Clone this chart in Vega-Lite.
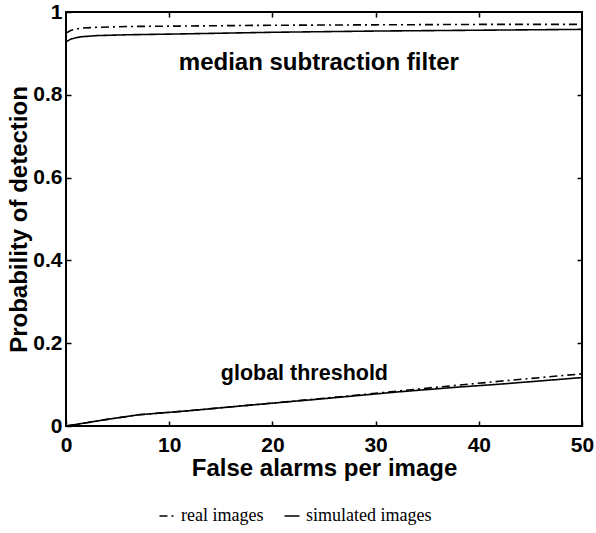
{
  "$schema": "https://vega.github.io/schema/vega-lite/v6.json",
  "width": 516,
  "height": 414,
  "autosize": {"type": "none"},
  "padding": {"left": 66, "top": 12, "right": 14, "bottom": 107},
  "background": "white",
  "config": {
    "view": {"stroke": "black", "strokeWidth": 2},
    "axis": {
      "domain": false,
      "grid": false,
      "tickColor": "black",
      "tickWidth": 1.5,
      "tickSize": -5,
      "labelFont": "Liberation Sans",
      "labelFontWeight": "bold",
      "labelFontSize": 21,
      "labelColor": "black",
      "titleFont": "Liberation Sans",
      "titleFontWeight": "bold",
      "titleFontSize": 24,
      "titleColor": "black"
    }
  },
  "datasets": {
    "curves": [
      {"fa": 0, "pd": 0.949, "curve": "median", "type": "real images"},
      {"fa": 0.5, "pd": 0.956, "curve": "median", "type": "real images"},
      {"fa": 1.4, "pd": 0.961, "curve": "median", "type": "real images"},
      {"fa": 3, "pd": 0.963, "curve": "median", "type": "real images"},
      {"fa": 6, "pd": 0.965, "curve": "median", "type": "real images"},
      {"fa": 11, "pd": 0.966, "curve": "median", "type": "real images"},
      {"fa": 20, "pd": 0.968, "curve": "median", "type": "real images"},
      {"fa": 30, "pd": 0.969, "curve": "median", "type": "real images"},
      {"fa": 40, "pd": 0.970, "curve": "median", "type": "real images"},
      {"fa": 50, "pd": 0.970, "curve": "median", "type": "real images"},
      {"fa": 0, "pd": 0.928, "curve": "median", "type": "simulated images"},
      {"fa": 0.5, "pd": 0.935, "curve": "median", "type": "simulated images"},
      {"fa": 1.4, "pd": 0.940, "curve": "median", "type": "simulated images"},
      {"fa": 3, "pd": 0.943, "curve": "median", "type": "simulated images"},
      {"fa": 6, "pd": 0.945, "curve": "median", "type": "simulated images"},
      {"fa": 11, "pd": 0.947, "curve": "median", "type": "simulated images"},
      {"fa": 20, "pd": 0.951, "curve": "median", "type": "simulated images"},
      {"fa": 30, "pd": 0.954, "curve": "median", "type": "simulated images"},
      {"fa": 40, "pd": 0.956, "curve": "median", "type": "simulated images"},
      {"fa": 50, "pd": 0.958, "curve": "median", "type": "simulated images"},
      {"fa": 0, "pd": 0.0, "curve": "global", "type": "real images"},
      {"fa": 2, "pd": 0.008, "curve": "global", "type": "real images"},
      {"fa": 4, "pd": 0.016, "curve": "global", "type": "real images"},
      {"fa": 7, "pd": 0.027, "curve": "global", "type": "real images"},
      {"fa": 9, "pd": 0.031, "curve": "global", "type": "real images"},
      {"fa": 12, "pd": 0.037, "curve": "global", "type": "real images"},
      {"fa": 15, "pd": 0.044, "curve": "global", "type": "real images"},
      {"fa": 19, "pd": 0.053, "curve": "global", "type": "real images"},
      {"fa": 25, "pd": 0.067, "curve": "global", "type": "real images"},
      {"fa": 30, "pd": 0.079, "curve": "global", "type": "real images"},
      {"fa": 36, "pd": 0.094, "curve": "global", "type": "real images"},
      {"fa": 42, "pd": 0.108, "curve": "global", "type": "real images"},
      {"fa": 46, "pd": 0.117, "curve": "global", "type": "real images"},
      {"fa": 50, "pd": 0.126, "curve": "global", "type": "real images"},
      {"fa": 0, "pd": 0.0, "curve": "global", "type": "simulated images"},
      {"fa": 2, "pd": 0.008, "curve": "global", "type": "simulated images"},
      {"fa": 4, "pd": 0.016, "curve": "global", "type": "simulated images"},
      {"fa": 7, "pd": 0.027, "curve": "global", "type": "simulated images"},
      {"fa": 9, "pd": 0.031, "curve": "global", "type": "simulated images"},
      {"fa": 12, "pd": 0.037, "curve": "global", "type": "simulated images"},
      {"fa": 15, "pd": 0.044, "curve": "global", "type": "simulated images"},
      {"fa": 19, "pd": 0.053, "curve": "global", "type": "simulated images"},
      {"fa": 25, "pd": 0.066, "curve": "global", "type": "simulated images"},
      {"fa": 32, "pd": 0.082, "curve": "global", "type": "simulated images"},
      {"fa": 38, "pd": 0.094, "curve": "global", "type": "simulated images"},
      {"fa": 42, "pd": 0.101, "curve": "global", "type": "simulated images"},
      {"fa": 46, "pd": 0.109, "curve": "global", "type": "simulated images"},
      {"fa": 50, "pd": 0.117, "curve": "global", "type": "simulated images"}
    ],
    "median_label": [
      {"fa": 24.5, "pd": 0.86, "text": "median subtraction filter"}
    ],
    "global_label": [
      {"fa": 23.1, "pd": 0.111, "text": "global threshold"}
    ]
  },
  "layer": [
    {
      "data": {"name": "curves"},
      "mark": {"type": "line", "color": "black", "strokeWidth": 1.6},
      "encoding": {
        "x": {
          "field": "fa", "type": "quantitative",
          "scale": {"domain": [0, 50], "nice": false},
          "axis": {"values": [0, 10, 20, 30, 40, 50], "title": "False alarms per image", "labelPadding": 13, "titlePadding": 1, "labelFlush": false}
        },
        "y": {
          "field": "pd", "type": "quantitative",
          "scale": {"domain": [0, 1], "nice": false},
          "axis": {"values": [0, 0.2, 0.4, 0.6, 0.8, 1], "format": "~g", "title": "Probability of detection", "labelPadding": 9, "titleX": -35, "labelFlush": false}
        },
        "detail": {"field": "curve"},
        "strokeDash": {
          "field": "type", "type": "nominal",
          "scale": {"domain": ["real images", "simulated images"], "range": [[8, 4, 2, 4], [1, 0]]},
          "legend": {
            "title": null,
            "orient": "none",
            "legendX": 92,
            "legendY": 495,
            "direction": "horizontal",
            "symbolType": "stroke",
            "symbolSize": 225,
            "symbolStrokeWidth": 1.5,
            "symbolStrokeColor": "black",
            "labelFont": "Liberation Serif",
            "labelFontSize": 18,
            "labelColor": "black",
            "columnPadding": 17,
            "labelOffset": 5
          }
        }
      }
    },
    {
      "data": {"name": "median_label"},
      "mark": {"type": "text", "font": "Liberation Sans", "fontWeight": "bold", "fontSize": 24, "color": "black", "align": "center", "baseline": "alphabetic"},
      "encoding": {
        "x": {"field": "fa", "type": "quantitative", "axis": {"orient": "top", "labels": false, "title": null, "values": [10, 20, 30, 40]}},
        "y": {"field": "pd", "type": "quantitative", "axis": {"orient": "right", "labels": false, "title": null, "values": [0.2, 0.4, 0.6, 0.8]}},
        "text": {"field": "text"}
      }
    },
    {
      "data": {"name": "global_label"},
      "mark": {"type": "text", "font": "Liberation Sans", "fontWeight": "bold", "fontSize": 21.5, "color": "black", "align": "center", "baseline": "alphabetic"},
      "encoding": {
        "x": {"field": "fa", "type": "quantitative", "axis": null},
        "y": {"field": "pd", "type": "quantitative", "axis": null},
        "text": {"field": "text"}
      }
    }
  ],
  "resolve": {"axis": {"x": "independent", "y": "independent"}}
}
